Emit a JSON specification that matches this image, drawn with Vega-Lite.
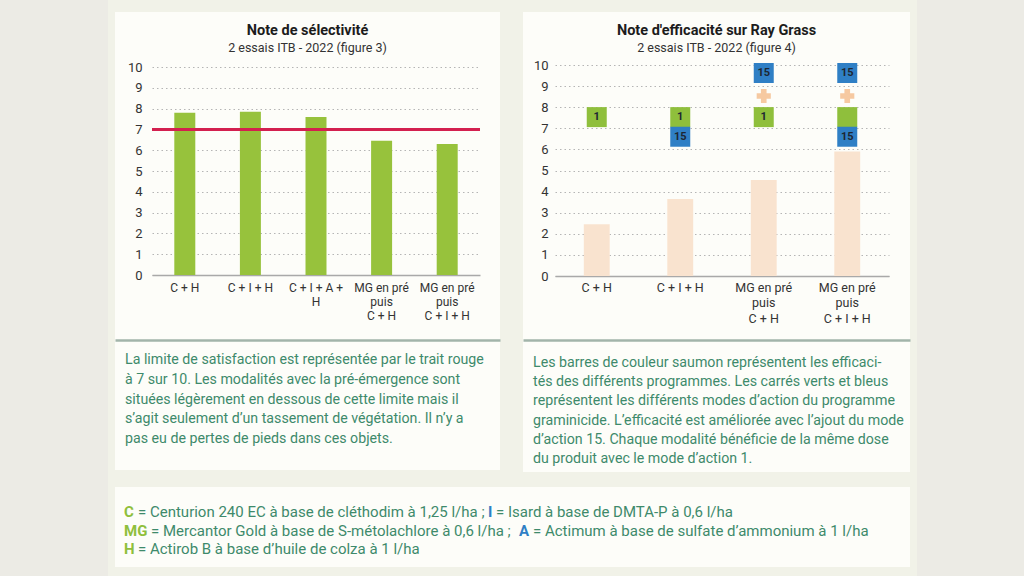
{
  "$schema": "https://vega.github.io/schema/vega-lite/v6.json",
  "background": "#f1f2e8",
  "padding": 0,
  "spacing": 7,
  "config": {
    "view": {"stroke": null},
    "font": "Roboto",
    "axis": {"labelFont": "Roboto", "titleFont": "Roboto"},
    "title": {"font": "Roboto", "subtitleFont": "Roboto"},
    "text": {"font": "Roboto"}
  },
  "datasets": {
    "selectivite": [
      {"modalite": "C + H", "note": 7.8},
      {"modalite": "C + I + H", "note": 7.85},
      {"modalite": "C + I + A +|H", "note": 7.6},
      {"modalite": "MG en pré|puis|C + H", "note": 6.45},
      {"modalite": "MG en pré|puis|C + I + H", "note": 6.3}
    ],
    "efficacite": [
      {"modalite": "C + H", "note": 2.45},
      {"modalite": "C + I + H", "note": 3.65},
      {"modalite": "MG en pré|puis|C + H", "note": 4.55},
      {"modalite": "MG en pré|puis|C + I + H", "note": 5.9}
    ],
    "modes": [
      {"modalite": "C + H", "mode": "1", "position": 7.53, "label": "1"},
      {"modalite": "C + I + H", "mode": "1", "position": 7.53, "label": "1"},
      {"modalite": "C + I + H", "mode": "15", "position": 6.6, "label": "15"},
      {"modalite": "MG en pré|puis|C + H", "mode": "15", "position": 9.62, "label": "15"},
      {"modalite": "MG en pré|puis|C + H", "mode": "1", "position": 7.53, "label": "1"},
      {"modalite": "MG en pré|puis|C + I + H", "mode": "15", "position": 9.62, "label": "15"},
      {"modalite": "MG en pré|puis|C + I + H", "mode": "1", "position": 7.53, "label": ""},
      {"modalite": "MG en pré|puis|C + I + H", "mode": "15", "position": 6.6, "label": "15"}
    ],
    "plus": [
      {"modalite": "MG en pré|puis|C + H", "position": 8.53},
      {"modalite": "MG en pré|puis|C + I + H", "position": 8.53}
    ],
    "texte_gauche": [
      {"ligne": 1, "texte": "La limite de satisfaction est représentée par le trait rouge"},
      {"ligne": 2, "texte": "à 7 sur 10. Les modalités avec la pré-émergence sont"},
      {"ligne": 3, "texte": "situées légèrement en dessous de cette limite mais il"},
      {"ligne": 4, "texte": "s’agit seulement d’un tassement de végétation. Il n’y a"},
      {"ligne": 5, "texte": "pas eu de pertes de pieds dans ces objets."}
    ],
    "texte_droite": [
      {"ligne": 1, "texte": "Les barres de couleur saumon représentent les efficaci-"},
      {"ligne": 2, "texte": "tés des différents programmes. Les carrés verts et bleus"},
      {"ligne": 3, "texte": "représentent les différents modes d’action du programme"},
      {"ligne": 4, "texte": "graminicide. L’efficacité est améliorée avec l’ajout du mode"},
      {"ligne": 5, "texte": "d’action 15. Chaque modalité bénéficie de la même dose"},
      {"ligne": 6, "texte": "du produit avec le mode d’action 1."}
    ],
    "legende": [
      {"ligne": 1, "part": "k1", "texte": "C"},
      {"ligne": 1, "part": "r1", "texte": "= Centurion 240 EC à base de cléthodim à 1,25 l/ha ;"},
      {"ligne": 1, "part": "k2", "texte": "I"},
      {"ligne": 1, "part": "r2", "texte": "= Isard à base de DMTA-P à 0,6 l/ha"},
      {"ligne": 2, "part": "k1", "texte": "MG"},
      {"ligne": 2, "part": "r1", "texte": "= Mercantor Gold à base de S-métolachlore à 0,6 l/ha ;"},
      {"ligne": 2, "part": "k2", "texte": "A"},
      {"ligne": 2, "part": "r2", "texte": "= Actimum à base de sulfate d’ammonium à 1 l/ha"},
      {"ligne": 3, "part": "k1", "texte": "H"},
      {"ligne": 3, "part": "r1", "texte": "= Actirob B à base d’huile de colza à 1 l/ha"}
    ]
  },
  "hconcat": [
    {
      "width": 108, "height": 576,
      "view": {"fill": "#ecebe5"},
      "data": {"values": [{}]},
      "mark": "text",
      "encoding": {"text": {"value": ""}}
    },
    {
      "spacing": 0,
      "vconcat": [
        {
          "width": 795, "height": 12,
          "data": {"values": [{}]},
          "mark": "text",
          "encoding": {"text": {"value": ""}}
        },
        {
          "spacing": 15,
          "vconcat": [
            {
              "spacing": 23,
              "hconcat": [
                {
                  "spacing": 0,
                  "vconcat": [
                    {
                      "width": 385, "height": 328,
                      "view": {"fill": "#fdfdf9"},
                      "title": {
                        "text": "Note de sélectivité",
                        "subtitle": "2 essais ITB - 2022 (figure 3)",
                        "anchor": "middle", "offset": -43,
                        "fontSize": 14.5, "fontWeight": "bold", "color": "#1c1c1c",
                        "subtitleFontSize": 12.5, "subtitleColor": "#333333", "subtitlePadding": 3
                      },
                      "data": {"name": "selectivite"},
                      "layer": [
                        {
                          "mark": {"type": "bar", "color": "#97c23c", "width": {"band": 0.32}},
                          "encoding": {
                            "x": {
                              "field": "modalite", "type": "nominal", "sort": null,
                              "scale": {"type": "band", "range": [37, 365], "paddingInner": 0, "paddingOuter": 0},
                              "axis": {
                                "title": null, "orient": "bottom", "offset": -65,
                                "domain": true, "domainColor": "#a9a9a9", "domainWidth": 1.5,
                                "ticks": false, "grid": false, "labelAngle": 0, "labelPadding": 7,
                                "labelFontSize": 12, "labelColor": "#333333", "labelLineHeight": 14,
                                "labelOverlap": false, "labelExpr": "split(datum.label, '|')"
                              }
                            },
                            "y": {
                              "field": "note", "type": "quantitative",
                              "scale": {"domain": [0, 10], "range": [263, 55], "nice": false},
                              "axis": {
                                "title": null, "values": [0, 1, 2, 3, 4, 5, 6, 7, 8, 9, 10], "tickCount": 20, "format": "d",
                                "domain": false, "ticks": false, "offset": -31, "labelPadding": 4,
                                "labelFontSize": 13, "labelColor": "#333333", "labelOverlap": false,
                                "grid": true, "gridColor": "#b5b5b5", "gridDash": [1.5, 3], "gridWidth": 1
                              }
                            }
                          }
                        },
                        {
                          "mark": {"type": "rule", "color": "#d3204f", "strokeWidth": 2.5},
                          "encoding": {
                            "x": {"datum": 0, "type": "quantitative", "scale": {"domain": [0, 1], "range": [37, 365]}, "axis": null},
                            "x2": {"datum": 1},
                            "y": {
                              "datum": 7, "type": "quantitative",
                              "axis": {
                                "title": null, "values": [0, 1, 2, 3, 4, 5, 6, 7, 8, 9, 10], "tickCount": 20, "format": "d",
                                "domain": false, "ticks": false, "offset": -31, "labelPadding": 4,
                                "labelFontSize": 13, "labelColor": "#333333", "labelOverlap": false,
                                "grid": true, "gridColor": "#b5b5b5", "gridDash": [1.5, 3], "gridWidth": 1
                              }
                            }
                          }
                        }
                      ],
                      "resolve": {"scale": {"x": "independent"}}
                    },
                    {
                      "width": 385, "height": 130,
                      "view": {"fill": "#fdfdf9"},
                      "data": {"name": "texte_gauche"},
                      "mark": {"type": "text", "align": "left", "dx": 10, "fontSize": 14.2, "color": "#3e8a6b"},
                      "encoding": {
                        "x": {"datum": 0, "type": "quantitative", "scale": {"domain": [0, 1]},
                              "axis": {"orient": "top", "title": null, "labels": false, "ticks": false, "grid": false,
                                       "domain": true, "domainColor": "#a2b4aa", "domainWidth": 2.5}},
                        "y": {"field": "ligne", "type": "ordinal", "scale": {"type": "point", "range": [20, 99], "padding": 0}, "axis": null},
                        "text": {"field": "texte"}
                      }
                    }
                  ]
                },
                {
                  "spacing": 0,
                  "vconcat": [
                    {
                      "width": 387, "height": 328,
                      "view": {"fill": "#fdfdf9"},
                      "title": {
                        "text": "Note d'efficacité sur Ray Grass",
                        "subtitle": "2 essais ITB - 2022 (figure 4)",
                        "anchor": "middle", "offset": -43,
                        "fontSize": 14.5, "fontWeight": "bold", "color": "#1c1c1c",
                        "subtitleFontSize": 12.5, "subtitleColor": "#333333", "subtitlePadding": 3
                      },
                      "encoding": {
                        "x": {
                          "field": "modalite", "type": "nominal", "sort": null,
                          "scale": {"type": "band", "range": [32, 366], "paddingInner": 0, "paddingOuter": 0,
                                    "domain": ["C + H", "C + I + H", "MG en pré|puis|C + H", "MG en pré|puis|C + I + H"]},
                          "axis": {
                            "title": null, "orient": "bottom", "offset": -64,
                            "domain": true, "domainColor": "#a9a9a9", "domainWidth": 1.5,
                            "ticks": false, "grid": false, "labelAngle": 0, "labelPadding": 5,
                            "labelFontSize": 12.5, "labelColor": "#333333", "labelLineHeight": 15.5,
                            "labelOverlap": false, "labelExpr": "split(datum.label, '|')"
                          }
                        }
                      },
                      "layer": [
                        {
                          "data": {"name": "efficacite"},
                          "mark": {"type": "bar", "color": "#f9e3cf", "width": {"band": 0.31}},
                          "encoding": {
                            "y": {
                              "field": "note", "type": "quantitative",
                              "scale": {"domain": [0, 10], "range": [264, 53], "nice": false},
                              "axis": {
                                "title": null, "values": [0, 1, 2, 3, 4, 5, 6, 7, 8, 9, 10], "tickCount": 20, "format": "d",
                                "domain": false, "ticks": false, "offset": -29, "labelPadding": 4,
                                "labelFontSize": 13, "labelColor": "#333333", "labelOverlap": false,
                                "grid": true, "gridColor": "#b5b5b5", "gridDash": [1.5, 3], "gridWidth": 1
                              }
                            }
                          }
                        },
                        {
                          "data": {"name": "modes"},
                          "encoding": {
                            "y": {
                              "field": "position", "type": "quantitative",
                              "axis": {
                                "title": null, "values": [0, 1, 2, 3, 4, 5, 6, 7, 8, 9, 10], "tickCount": 20, "format": "d",
                                "domain": false, "ticks": false, "offset": -29, "labelPadding": 4,
                                "labelFontSize": 13, "labelColor": "#333333", "labelOverlap": false,
                                "grid": true, "gridColor": "#b5b5b5", "gridDash": [1.5, 3], "gridWidth": 1
                              }
                            }
                          },
                          "layer": [
                            {
                              "mark": {"type": "point", "shape": "square", "size": 400, "filled": true, "opacity": 1},
                              "encoding": {
                                "color": {"field": "mode", "type": "nominal",
                                          "scale": {"domain": ["1", "15"], "range": ["#8fbf3c", "#2f7fc5"]}, "legend": null}
                              }
                            },
                            {
                              "mark": {"type": "text", "fontWeight": "bold", "fontSize": 11, "color": "#1d2733"},
                              "encoding": {"text": {"field": "label"}}
                            }
                          ]
                        },
                        {
                          "data": {"name": "plus"},
                          "mark": {"type": "point", "shape": "cross", "size": 200, "filled": true, "color": "#f6c9a1", "opacity": 1},
                          "encoding": {
                            "y": {
                              "field": "position", "type": "quantitative",
                              "axis": {
                                "title": null, "values": [0, 1, 2, 3, 4, 5, 6, 7, 8, 9, 10], "tickCount": 20, "format": "d",
                                "domain": false, "ticks": false, "offset": -29, "labelPadding": 4,
                                "labelFontSize": 13, "labelColor": "#333333", "labelOverlap": false,
                                "grid": true, "gridColor": "#b5b5b5", "gridDash": [1.5, 3], "gridWidth": 1
                              }
                            }
                          }
                        }
                      ]
                    },
                    {
                      "width": 387, "height": 132,
                      "view": {"fill": "#fdfdf9"},
                      "data": {"name": "texte_droite"},
                      "mark": {"type": "text", "align": "left", "dx": 10, "fontSize": 14.2, "color": "#3e8a6b"},
                      "encoding": {
                        "x": {"datum": 0, "type": "quantitative", "scale": {"domain": [0, 1]},
                              "axis": {"orient": "top", "title": null, "labels": false, "ticks": false, "grid": false,
                                       "domain": true, "domainColor": "#a2b4aa", "domainWidth": 2.5}},
                        "y": {"field": "ligne", "type": "ordinal", "scale": {"type": "point", "range": [23, 119], "padding": 0}, "axis": null},
                        "text": {"field": "texte"}
                      }
                    }
                  ]
                }
              ]
            },
            {
              "width": 795, "height": 80,
              "view": {"fill": "#fdfdf9"},
              "data": {"name": "legende"},
              "encoding": {
                "x": {"datum": 0, "type": "quantitative", "scale": {"domain": [0, 1]}, "axis": null},
                "y": {"field": "ligne", "type": "ordinal", "scale": {"type": "point", "range": [25, 62], "padding": 0}, "axis": null},
                "text": {"field": "texte"}
              },
              "layer": [
                {
                  "transform": [{"filter": "datum.part === 'k1'"}],
                  "mark": {"type": "text", "align": "left", "dx": 9, "fontSize": 15, "fontWeight": "bold"},
                  "encoding": {
                    "color": {"field": "texte", "type": "nominal",
                              "scale": {"domain": ["C", "I", "MG", "A", "H"], "range": ["#8fbf2f", "#2e7fc6", "#2e7fc6", "#2f7a5a", "#2f7a5a"]},
                              "legend": null}
                  }
                },
                {
                  "transform": [{"filter": "datum.part === 'r1' && datum.ligne !== 2"}],
                  "mark": {"type": "text", "align": "left", "dx": 23, "fontSize": 15, "color": "#3e8a6b"}
                },
                {
                  "transform": [{"filter": "datum.part === 'r1' && datum.ligne === 2"}],
                  "mark": {"type": "text", "align": "left", "dx": 36, "fontSize": 15, "color": "#3e8a6b"}
                },
                {
                  "transform": [{"filter": "datum.part === 'k2' && datum.ligne === 1"}],
                  "mark": {"type": "text", "align": "left", "dx": 373, "fontSize": 15, "fontWeight": "bold"},
                  "encoding": {"color": {"field": "texte", "type": "nominal", "legend": null}}
                },
                {
                  "transform": [{"filter": "datum.part === 'r2' && datum.ligne === 1"}],
                  "mark": {"type": "text", "align": "left", "dx": 381, "fontSize": 15, "color": "#3e8a6b"}
                },
                {
                  "transform": [{"filter": "datum.part === 'k2' && datum.ligne === 2"}],
                  "mark": {"type": "text", "align": "left", "dx": 404, "fontSize": 15, "fontWeight": "bold"},
                  "encoding": {"color": {"field": "texte", "type": "nominal", "legend": null}}
                },
                {
                  "transform": [{"filter": "datum.part === 'r2' && datum.ligne === 2"}],
                  "mark": {"type": "text", "align": "left", "dx": 418, "fontSize": 15, "color": "#3e8a6b"}
                }
              ]
            }
          ]
        }
      ]
    },
    {
      "width": 107, "height": 576,
      "view": {"fill": "#ecebe5"},
      "data": {"values": [{}]},
      "mark": "text",
      "encoding": {"text": {"value": ""}}
    }
  ]
}
